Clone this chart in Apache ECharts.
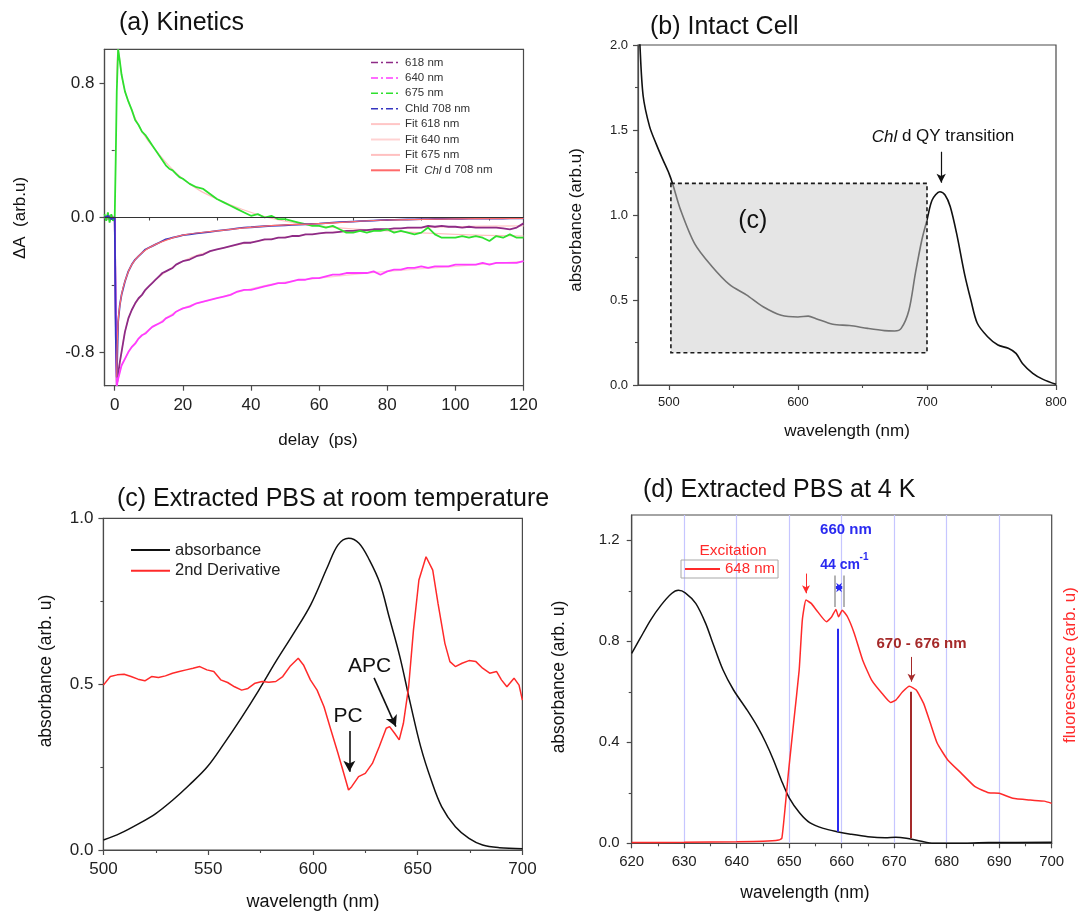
<!DOCTYPE html>
<html>
<head>
<meta charset="utf-8">
<script src="https://cdn.jsdelivr.net/npm/echarts@6/dist/echarts.min.js"></script>
<style>
  html, body { margin: 0; padding: 0; background: #fff; }
  #chart { width: 1081px; height: 912px; }
</style>
</head>
<body>
<div id="chart"></div>
<script>
// ---------- (a) transient absorption kinetics ----------
const delayPs = [-3,-2.5,-2,-1.5,-1,-0.5,0,0.3,0.6,1,1.5,2,
  3,4,5,6,7,8,9,10,11,12,13,14,15,16,17,18,19,20,
  22,24,26,28,30,32,34,36,38,40,42,44,46,48,50,52,54,56,58,60,
  62,64,66,68,70,72,74,76,78,80,82,84,86,88,90,92,94,96,98,100,
  102,104,106,108,110,112,114,116,118,120];
const dA618 = [0.01,-0.01,0.0,0.01,-0.01,0.0, 0.0,-0.6,-1.0,-0.93,-0.86,-0.80,
  -0.68,-0.60,-0.55,-0.51,-0.48,-0.46,-0.43,-0.41,-0.39,-0.37,-0.35,-0.33,-0.32,-0.31,-0.30,-0.28,-0.27,-0.26,
  -0.25,-0.23,-0.22,-0.20,-0.19,-0.18,-0.17,-0.16,-0.15,-0.15,-0.14,-0.13,-0.13,-0.12,-0.12,-0.11,-0.11,-0.10,-0.10,-0.095,
  -0.09,-0.09,-0.085,-0.08,-0.08,-0.075,-0.075,-0.07,-0.07,-0.07,-0.065,-0.065,-0.06,-0.06,-0.06,-0.05,-0.055,-0.05,-0.055,-0.055,
  -0.06,-0.055,-0.06,-0.06,-0.06,-0.06,-0.065,-0.07,-0.06,-0.035];
const dA640 = [0.0,0.01,-0.01,0.0,0.01,0.0, 0.0,-0.55,-1.0,-0.96,-0.92,-0.88,
  -0.84,-0.80,-0.77,-0.75,-0.72,-0.70,-0.69,-0.67,-0.65,-0.64,-0.63,-0.62,-0.60,-0.59,-0.58,-0.56,-0.55,-0.54,
  -0.53,-0.51,-0.50,-0.49,-0.48,-0.47,-0.46,-0.44,-0.43,-0.43,-0.42,-0.41,-0.40,-0.39,-0.39,-0.38,-0.37,-0.37,-0.36,-0.36,
  -0.35,-0.34,-0.34,-0.33,-0.33,-0.33,-0.33,-0.32,-0.34,-0.32,-0.31,-0.31,-0.30,-0.30,-0.29,-0.30,-0.29,-0.29,-0.29,-0.28,
  -0.28,-0.28,-0.28,-0.27,-0.28,-0.27,-0.27,-0.27,-0.27,-0.26];
const dA675 = [0.02,-0.02,0.03,-0.03,0.02,-0.02, 0.0,0.35,0.75,1.0,0.93,0.85,
  0.75,0.69,0.64,0.58,0.55,0.51,0.49,0.46,0.43,0.40,0.37,0.34,0.31,0.29,0.28,0.26,0.24,0.23,
  0.20,0.18,0.17,0.14,0.11,0.09,0.07,0.05,0.03,0.01,0.02,0.0,0.01,-0.01,-0.01,-0.02,-0.03,-0.04,-0.05,-0.05,
  -0.06,-0.05,-0.07,-0.09,-0.09,-0.08,-0.09,-0.08,-0.08,-0.07,-0.09,-0.08,-0.09,-0.10,-0.09,-0.06,-0.10,-0.12,-0.12,-0.12,
  -0.11,-0.12,-0.11,-0.12,-0.14,-0.11,-0.12,-0.10,-0.12,-0.12];
const dA708 = [0.0,0.0,0.01,0.0,-0.01,0.0, 0.0,-0.7,-0.95,-0.62,-0.52,-0.46,
  -0.38,-0.32,-0.28,-0.25,-0.23,-0.21,-0.19,-0.18,-0.17,-0.16,-0.15,-0.14,-0.13,-0.125,-0.12,-0.115,-0.11,-0.105,
  -0.10,-0.095,-0.09,-0.085,-0.08,-0.075,-0.07,-0.065,-0.06,-0.058,-0.055,-0.052,-0.05,-0.048,-0.046,-0.044,-0.042,-0.04,-0.038,-0.036,
  -0.033,-0.03,-0.028,-0.026,-0.024,-0.022,-0.02,-0.018,-0.016,-0.015,-0.014,-0.013,-0.012,-0.011,-0.01,-0.01,-0.009,-0.009,-0.008,-0.008,
  -0.008,-0.007,-0.007,-0.007,-0.006,-0.006,-0.006,-0.005,-0.005,-0.005];
// multi-exponential fits, sampled
const fitDelay = [0.6,1,2,3,5,8,12,20,30,45,60,80,100,120];
const fit618 = [-1.0,-0.93,-0.80,-0.68,-0.55,-0.46,-0.37,-0.26,-0.19,-0.13,-0.095,-0.07,-0.055,-0.05];
const fit640 = [-1.0,-0.96,-0.88,-0.84,-0.77,-0.70,-0.64,-0.54,-0.48,-0.40,-0.36,-0.32,-0.29,-0.26];
const fit675 = [0.8,1.0,0.85,0.75,0.64,0.51,0.40,0.23,0.11,0.0,-0.05,-0.08,-0.10,-0.11];
const fit708 = [-0.95,-0.62,-0.46,-0.38,-0.28,-0.21,-0.16,-0.105,-0.08,-0.05,-0.036,-0.015,-0.008,-0.005];

// ---------- (b) intact cell absorbance ----------
const cellWl = [476,477.5,480,485,490,495,500,503,509,520,533,547,560,573,587,600,608,614,627,640,654,667,675,680,686,691,696,700,704,710,714,718,723,729,734,739,747,755,763,769,774,782,790,800];
const cellAbs = [2.3,2.0,1.70,1.52,1.42,1.33,1.245,1.18,1.03,0.83,0.70,0.59,0.53,0.46,0.41,0.40,0.405,0.39,0.357,0.35,0.333,0.32,0.318,0.333,0.44,0.657,0.853,0.97,1.088,1.137,1.118,1.05,0.89,0.657,0.5,0.363,0.284,0.235,0.216,0.186,0.127,0.069,0.033,0.004];
// region shown enlarged in (c)
const zoomBox = { from: 501.5, to: 700, top: 1.186, bottom: 0.19 };
const qyPeakNm = 711;

// ---------- (c) extracted PBS, room temperature ----------
const pbsWl = [500,508,516.5,525,533,541,549.5,557.5,566,574,582.5,590.5,599,607,612,617,622,627,632,636.5,641.5,646.5,651.5,656.5,661.5,668,674.5,681,689,700];
const pbsAbs = [0.03,0.05,0.078,0.11,0.15,0.196,0.25,0.32,0.40,0.48,0.57,0.65,0.74,0.854,0.92,0.94,0.925,0.874,0.804,0.70,0.583,0.442,0.31,0.21,0.13,0.07,0.035,0.015,0.007,0.004];
const derivWl = [500,503.3,506.6,509.9,513.2,516.5,519.8,523,526.3,529.6,533,536.2,539.5,542.8,546,549.4,552.7,556,559.3,562.6,566,569,572.4,575.7,579,582.3,585.6,589,593,595.5,598.8,602,605.3,608.6,612,615.2,617,618.5,621.8,625,628.4,631.7,635,636.6,639,641.2,643.2,645.7,648,650.6,654,657.2,659.7,663,665.4,668,671.2,674.5,677.8,681,684.4,687.7,690,692.6,696,698.4,700];
const derivVal = [0.497,0.523,0.528,0.53,0.523,0.515,0.51,0.523,0.52,0.525,0.533,0.538,0.543,0.548,0.553,0.543,0.538,0.513,0.505,0.492,0.482,0.487,0.503,0.508,0.506,0.508,0.523,0.553,0.578,0.558,0.513,0.482,0.432,0.362,0.291,0.221,0.181,0.191,0.221,0.231,0.261,0.312,0.367,0.372,0.352,0.332,0.382,0.492,0.663,0.814,0.884,0.844,0.744,0.623,0.568,0.553,0.563,0.571,0.568,0.548,0.533,0.538,0.513,0.492,0.518,0.497,0.452];

// ---------- (d) extracted PBS, 4 K ----------
const lowTWl = [620,621.6,623.6,625.6,627.6,628.9,630.2,632.2,634.1,635.5,637.4,639.4,642,644,645.5,647,648.5,650,652,653.9,656.5,659.1,661.7,665,668.3,670.3,672.3,674.9,677.5,681.5,688,700];
const lowTAbs = [0.752,0.811,0.884,0.943,0.989,1.002,0.992,0.95,0.87,0.79,0.686,0.607,0.527,0.46,0.40,0.33,0.25,0.18,0.12,0.082,0.059,0.046,0.036,0.026,0.022,0.024,0.02,0.009,0.0,0.0,0.003,0.004];
const fluorWl = [620,630,640,645,648,648.6,649.3,649.9,650.9,651.9,652.5,653.2,654.2,655.2,657.1,658.1,658.9,659.4,660.1,661.1,662.4,664,665.7,667.7,669.3,670.3,671.6,672.9,674.2,675.6,676.9,678.2,680.2,682.8,685.4,688,690,692.6,695.9,698.6,700];
const fluorVal = [0.003,0.004,0.006,0.008,0.013,0.02,0.158,0.29,0.488,0.686,0.884,0.963,0.95,0.923,0.877,0.897,0.926,0.897,0.923,0.897,0.831,0.725,0.646,0.593,0.558,0.567,0.6,0.622,0.607,0.554,0.475,0.396,0.33,0.277,0.224,0.2,0.198,0.178,0.171,0.167,0.158];
const peak660Nm = 659.3, peak660Top = 0.85;
const band673Nm = 673.1, band673Top = 0.6;

// tick values
const ticksA = { x: [0,20,40,60,80,100,120], xMinor: [10,30,50,70,90,110], y: [-0.8,0,0.8], yMinor: [-0.4,0.4] };
const ticksB = { x: [500,600,700,800], xMinor: [550,650,750], y: [0,0.5,1,1.5,2], yMinor: [0.25,0.75,1.25,1.75] };
const ticksC = { x: [500,550,600,650,700], xMinor: [525,575,625,675], y: [0,0.5,1], yMinor: [0.25,0.75] };
const ticksD = { x: [620,630,640,650,660,670,680,690,700], xMinor: [625,635,645,655,665,675,685,695], y: [0,0.4,0.8,1.2], yMinor: [0.2,0.6,1.0], grid: [630,640,650,660,670,680,690] };

const FONT = '"Liberation Sans", Arial, Helvetica, sans-serif';
const AX = '#4a4a4a';
const zip = (xs, ys) => xs.map((x, i) => [x, ys[i]]);
const fix1 = v => v.toFixed(1);
const int0 = v => String(Math.round(v));

function mainAxis(dim, grid, min, max, values, fmt, fontSize, margin) {
  return {
    type: 'value', gridIndex: grid, min: min, max: max,
    position: dim === 'x' ? 'bottom' : 'left',
    axisLine: { show: true, onZero: false, lineStyle: { color: AX, width: 1.2 } },
    axisTick: { show: true, customValues: values, length: 5, lineStyle: { color: AX, width: 1.2 } },
    axisLabel: { customValues: values, formatter: fmt, fontSize: fontSize, margin: margin, color: '#222', fontFamily: FONT },
    splitLine: { show: false }
  };
}
function minorAxis(dim, grid, min, max, values) {
  return {
    type: 'value', gridIndex: grid, min: min, max: max,
    position: dim === 'x' ? 'bottom' : 'left',
    axisLine: { show: false },
    axisLabel: { show: false },
    axisTick: { show: true, customValues: values, length: 3, lineStyle: { color: AX, width: 1.1 } },
    splitLine: { show: false }
  };
}

const gridFrame = { show: true, borderColor: AX, borderWidth: 1.2, backgroundColor: 'transparent' };
const dashDot = [7, 3, 2, 3];
const line = (name, data, xi, color, width, extra) => Object.assign({
  type: 'line', name: name, data: data, xAxisIndex: xi, yAxisIndex: xi,
  symbol: 'none', silent: true,
  lineStyle: { color: color, width: width }, itemStyle: { color: color }
}, extra || {});
const arrowLine = (x1, y1, x2, y2, color, width) => [
  { coord: [x1, y1], lineStyle: { color: color, width: width, type: 'solid' } },
  { coord: [x2, y2] }
];
// legend keys show only the line sample
const hiddenMarker = { opacity: 0 };

const option = {
  animation: false,
  backgroundColor: '#fff',
  textStyle: { fontFamily: FONT },
  grid: [
    Object.assign({ left: 104.5, top: 49.3, width: 419, height: 336.4 }, gridFrame),
    Object.assign({ left: 638, top: 45, width: 418, height: 340 }, gridFrame),
    Object.assign({ left: 103.4, top: 518.3, width: 419, height: 331.7 }, gridFrame),
    Object.assign({ left: 631.7, top: 515, width: 420, height: 328.3 }, gridFrame)
  ],
  xAxis: [
    mainAxis('x', 0, -3, 120, ticksA.x, int0, 17, 11),
    mainAxis('x', 1, 476, 800, ticksB.x, int0, 13, 11),
    mainAxis('x', 2, 500, 700, ticksC.x, int0, 17, 11),
    mainAxis('x', 3, 620, 700, ticksD.x, int0, 15, 11),
    minorAxis('x', 0, -3, 120, ticksA.xMinor),
    minorAxis('x', 1, 476, 800, ticksB.xMinor),
    minorAxis('x', 2, 500, 700, ticksC.xMinor),
    minorAxis('x', 3, 620, 700, ticksD.xMinor),
    {
      type: 'value', gridIndex: 3, min: 620, max: 700, interval: 10, position: 'bottom',
      axisLine: { show: false }, axisLabel: { show: false },
      axisTick: { show: false, customValues: ticksD.grid },
      splitLine: { show: true, lineStyle: { color: '#c6c6ff', width: 1.2 } }
    }
  ],
  yAxis: [
    mainAxis('y', 0, -1, 1, ticksA.y, fix1, 17, 10),
    mainAxis('y', 1, 0, 2, ticksB.y, fix1, 13, 10),
    mainAxis('y', 2, 0, 1, ticksC.y, fix1, 17, 10),
    mainAxis('y', 3, 0, 1.3, ticksD.y, fix1, 15, 12),
    minorAxis('y', 0, -1, 1, ticksA.yMinor),
    minorAxis('y', 1, 0, 2, ticksB.yMinor),
    minorAxis('y', 2, 0, 1, ticksC.yMinor),
    minorAxis('y', 3, 0, 1.3, ticksD.yMinor)
  ],
  legend: [
    {
      left: 370, top: 56, orient: 'vertical', itemWidth: 29, itemHeight: 10, itemGap: 2.4,
      selectedMode: false, padding: 0, itemStyle: hiddenMarker,
      textStyle: { fontSize: 11.5, color: '#333', fontFamily: FONT, lineHeight: 13,
        rich: { i: { fontStyle: 'italic', fontSize: 11.5, fontFamily: FONT, color: '#333' } } },
      formatter: n => n === 'Fit Chl d 708 nm' ? 'Fit  {i|Chl} d 708 nm' : n,
      data: [
        { name: '618 nm', lineStyle: { type: dashDot, width: 1.5 } },
        { name: '640 nm', lineStyle: { type: dashDot, width: 1.5 } },
        { name: '675 nm', lineStyle: { type: dashDot, width: 1.5 } },
        { name: 'Chld 708 nm', lineStyle: { type: dashDot, width: 1.5 } },
        'Fit 618 nm', 'Fit 640 nm', 'Fit 675 nm', 'Fit Chl d 708 nm'
      ]
    },
    {
      left: 130, top: 541, orient: 'vertical', itemWidth: 39, itemHeight: 10, itemGap: 2.7,
      selectedMode: false, padding: 0, itemStyle: hiddenMarker,
      textStyle: { fontSize: 16.5, color: '#222', fontFamily: FONT, lineHeight: 18 },
      data: ['absorbance', '2nd Derivative']
    },
    {
      left: 681, top: 560, orient: 'vertical', itemWidth: 35, itemHeight: 10,
      selectedMode: false, padding: [1, 3, 1, 3], itemStyle: hiddenMarker,
      borderColor: '#a8a8a8', borderWidth: 1,
      textStyle: { fontSize: 15, color: '#ff2a2a', fontFamily: FONT, lineHeight: 16 },
      data: ['648 nm']
    }
  ],
  series: [
    // (a) fits drawn underneath the measured traces, except the Chl d fit
    line('Fit 618 nm', zip(fitDelay, fit618), 0, '#ffc6c6', 1.2, { smooth: 0.4, z: 1 }),
    line('Fit 640 nm', zip(fitDelay, fit640), 0, '#ffd2d2', 1.2, { smooth: 0.4, z: 1 }),
    line('Fit 675 nm', zip(fitDelay, fit675), 0, '#ffc0c0', 1.2, { smooth: 0.4, z: 1 }),
    line('618 nm', zip(delayPs, dA618), 0, '#8e2b86', 1.8, {
      z: 2,
      markLine: { silent: true, symbol: 'none', animation: false, label: { show: false },
        lineStyle: { color: '#333', width: 1, type: 'solid' }, data: [{ yAxis: 0 }] }
    }),
    line('640 nm', zip(delayPs, dA640), 0, '#ff3cff', 1.8, { z: 2 }),
    line('675 nm', zip(delayPs, dA675), 0, '#2ee02e', 1.8, { z: 2 }),
    line('Chld 708 nm', zip(delayPs, dA708), 0, '#3535c0', 1.8, { z: 2 }),
    line('Fit Chl d 708 nm', zip(fitDelay, fit708), 0, '#ff6a6a', 1.2, { smooth: 0.4, z: 3 }),
    // (b)
    line('cell', zip(cellWl, cellAbs), 1, '#111', 1.6, {
      smooth: 0.3, z: 2,
      markLine: { silent: true, animation: false, symbol: ['none', 'arrow'], symbolSize: [7, 9],
        label: { show: false },
        data: [arrowLine(qyPeakNm, 1.372, qyPeakNm, 1.19, '#111', 1.2)] }
    }),
    {
      type: 'custom', name: 'box', xAxisIndex: 1, yAxisIndex: 1, silent: true, z: 3,
      data: [[zoomBox.from, zoomBox.top, zoomBox.to, zoomBox.bottom]],
      encode: { x: [0, 2], y: [1, 3] },
      renderItem: (params, api) => {
        const p0 = api.coord([api.value(0), api.value(1)]);
        const p1 = api.coord([api.value(2), api.value(3)]);
        return {
          type: 'rect',
          shape: { x: p0[0], y: p0[1], width: p1[0] - p0[0], height: p1[1] - p0[1] },
          style: { fill: 'rgba(205,205,205,0.52)', stroke: '#1a1a1a', lineWidth: 1.6, lineDash: [4, 3] }
        };
      }
    },
    // (c)
    line('absorbance', zip(pbsWl, pbsAbs), 2, '#111', 1.5, { smooth: 0.35 }),
    line('2nd Derivative', zip(derivWl, derivVal), 2, '#ff2a2a', 1.5, {
      markLine: { silent: true, animation: false, symbol: ['none', 'arrow'], symbolSize: [9, 11],
        label: { show: false },
        data: [
          arrowLine(617.4, 0.359, 617.4, 0.236, '#111', 1.6),
          arrowLine(629.2, 0.519, 639.6, 0.372, '#111', 1.6)
        ] }
    }),
    // (d)
    line('absorbance 4 K', zip(lowTWl, lowTAbs), 3, '#111', 1.5, { smooth: 0.3 }),
    line('648 nm', zip(fluorWl, fluorVal), 3, '#ff2a2a', 1.5, {
      smooth: 0.15,
      markLine: { silent: true, animation: false, symbol: 'none', label: { show: false },
        data: [
          arrowLine(peak660Nm, 0.046, peak660Nm, peak660Top, '#2a2af0', 2),
          arrowLine(band673Nm, 0.02, band673Nm, band673Top, '#a52a2a', 2),
          arrowLine(658.6, 0.936, 658.6, 1.06, '#9a9a9a', 1.5),
          arrowLine(660.4, 0.936, 660.4, 1.06, '#9a9a9a', 1.5)
        ] }
    }),
    {
      type: 'line', name: 'marks', xAxisIndex: 3, yAxisIndex: 3, data: [], silent: true,
      markLine: { silent: true, animation: false, symbol: ['none', 'arrow'], symbolSize: [6, 8],
        label: { show: false },
        data: [
          arrowLine(653.2, 1.068, 653.2, 0.99, '#ff2a2a', 1),
          arrowLine(673.3, 0.738, 673.3, 0.64, '#a52a2a', 1)
        ] }
    },
    {
      type: 'line', name: 'spacing', xAxisIndex: 3, yAxisIndex: 3, data: [], silent: true,
      markLine: { silent: true, animation: false, symbol: ['arrow', 'arrow'], symbolSize: [7, 6],
        label: { show: false },
        data: [arrowLine(658.9, 1.013, 660.1, 1.013, '#2a2af0', 3)] }
    }
  ]
};

const chart = echarts.init(document.getElementById('chart'));
chart.setOption(option);

// annotations placed in data space of each panel
const P = (g, x, y) => chart.convertToPixel({ xAxisIndex: g, yAxisIndex: g }, [x, y]);
function txt(x, y, text, size, opts) {
  opts = opts || {};
  return {
    type: 'text', x: x, y: y, rotation: opts.rot || 0, silent: true, z: 100,
    style: {
      text: text, fill: opts.color || '#111', fontSize: size, fontFamily: FONT,
      fontWeight: opts.bold ? 'bold' : 'normal',
      align: opts.align || 'center', verticalAlign: 'middle',
      textAlign: opts.align || 'center', textVerticalAlign: 'middle',
      rich: opts.rich
    }
  };
}
const R = Math.PI / 2;
const pC = P(1, 565, 0.965);
const pQY = P(1, 712.4, 1.46);
const pPC = P(2, 616.8, 0.402);
const pAPC = P(2, 627.1, 0.553);
const p660 = P(3, 660.8, 1.242);
const p44 = P(3, 655.9, 1.102);
const p44s = P(3, 663.4, 1.134);
const p670 = P(3, 675.2, 0.79);
const pExc = P(3, 639.3, 1.158);

chart.setOption({
  graphic: [
    // panel titles
    txt(119, 23.3, '(a) Kinetics', 25, { align: 'left' }),
    txt(650, 27, '(b) Intact Cell', 25, { align: 'left' }),
    txt(117, 499.3, '(c) Extracted PBS at room temperature', 25, { align: 'left' }),
    txt(643, 490, '(d) Extracted PBS at 4 K', 25, { align: 'left' }),
    // axis names
    txt(20, 218, 'ΔA  (arb.u)', 17, { rot: R }),
    txt(318, 440, 'delay  (ps)', 17),
    txt(576, 220, 'absorbance (arb.u)', 17, { rot: R }),
    txt(847, 431, 'wavelength (nm)', 17),
    txt(46.6, 671, 'absorbance (arb. u)', 17.5, { rot: R }),
    txt(313, 901.7, 'wavelength (nm)', 18),
    txt(559, 677, 'absorbance (arb. u)', 17.5, { rot: R }),
    txt(1070, 665, 'fluorescence (arb. u)', 17, { rot: R, color: '#ff2a2a' }),
    txt(805, 893, 'wavelength (nm)', 17.5),
    // panel annotations
    txt(pC[0], pC[1], '(c)', 25),
    txt(pQY[0], pQY[1], '{i|Chl} d QY transition', 17,
      { rich: { i: { fontStyle: 'italic', fontSize: 17, fontFamily: FONT, fill: '#111' } } }),
    txt(pPC[0], pPC[1], 'PC', 21),
    txt(pAPC[0], pAPC[1], 'APC', 21),
    txt(p660[0], p660[1], '660 nm', 15, { bold: true, color: '#2a2af0' }),
    txt(p44[0], p44[1], '44 cm', 14, { bold: true, color: '#2a2af0', align: 'left' }),
    txt(p44s[0], p44s[1], '-1', 10, { bold: true, color: '#2a2af0', align: 'left' }),
    txt(p670[0], p670[1], '670 - 676 nm', 15, { bold: true, color: '#a52a2a' }),
    txt(pExc[0], pExc[1], 'Excitation', 15.5, { color: '#ff2a2a' })
  ]
});
</script>
</body>
</html>
